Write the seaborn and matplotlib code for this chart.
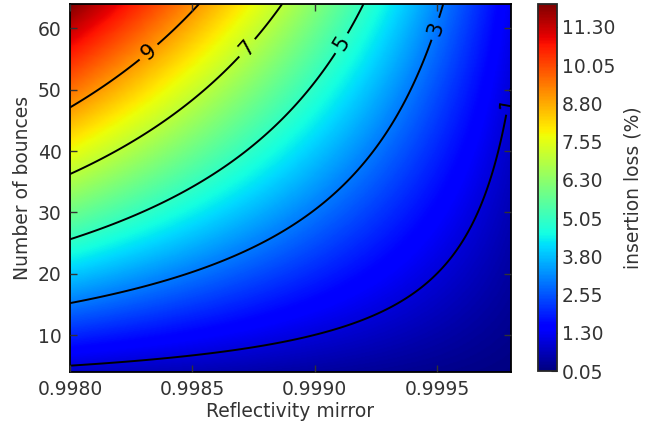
import numpy as np
import matplotlib
matplotlib.use("Agg")
import matplotlib.pyplot as plt
import seaborn as sns

# Axis ranges
reflectivity_range = [0.9980, 0.9998]
bounces_range = [4, 64]
x_ticks = [0.9980, 0.9985, 0.9990, 0.9995]
y_ticks = [10, 20, 30, 40, 50, 60]
contour_levels = [1, 3, 5, 7, 9]
cbar_ticks = [0.05, 1.30, 2.55, 3.80, 5.05, 6.30, 7.55, 8.80, 10.05, 11.30]
cbar_range = [0.05, 12.05]
label_positions = [(0.99832, 56.2), (0.99871, 57.3), (0.99910, 57.8),
                   (0.99948, 60.1), (0.99976, 48.0)]

sns.set_style("ticks", {"xtick.direction": "in", "ytick.direction": "in"})
plt.rcParams["font.family"] = ["DejaVu Sans"]

# insertion loss surface: 1 - R^N (percent)
R = np.linspace(reflectivity_range[0], reflectivity_range[1], 400)
N = np.linspace(bounces_range[0], bounces_range[1], 400)
RR, NN = np.meshgrid(R, N)
loss = 100.0 * (1.0 - RR ** NN)

fig = plt.figure(figsize=(6.66, 4.28), dpi=100)
ax = fig.add_axes([0.105, 0.131, 0.662, 0.860])
cax = fig.add_axes([0.808, 0.133, 0.0285, 0.858])

cmap = matplotlib.colormaps["jet"]
mesh = ax.pcolormesh(RR, NN, loss, cmap=cmap, shading="gouraud",
                     vmin=cbar_range[0], vmax=cbar_range[1], rasterized=True)
cl = ax.contour(RR, NN, loss, levels=contour_levels, colors="black", linewidths=1.4)
ax.clabel(cl, fmt="%d", fontsize=15, inline=True, manual=label_positions)

ax.set_axisbelow(False)
ax.set_xlim(*reflectivity_range)
ax.set_ylim(*bounces_range)
ax.set_xticks(x_ticks)
ax.set_xticklabels([f"{v:.4f}" for v in x_ticks])
ax.set_yticks(y_ticks)
ax.tick_params(axis="both", labelsize=13.5, direction="in", top=True, right=True,
               length=5, width=1, colors="#333333", labelcolor="#333333", pad=6)
for s in ax.spines.values():
    s.set_visible(True)
    s.set_linewidth(1.3)
    s.set_color("black")
ax.set_xlabel("Reflectivity mirror", fontsize=13.5, color="#333333", labelpad=2)
ax.set_ylabel("Number of bounces", fontsize=13.5, color="#333333", labelpad=4)

cb = fig.colorbar(mesh, cax=cax, ticks=cbar_ticks, format="%.2f")
cb.ax.tick_params(labelsize=13.5, direction="in", length=4, colors="#333333",
                  labelcolor="#333333")
cb.outline.set_linewidth(1.3)
cb.set_label("insertion loss (%)", fontsize=13.5, color="#333333", labelpad=6)

fig.savefig("out.png", dpi=100)
